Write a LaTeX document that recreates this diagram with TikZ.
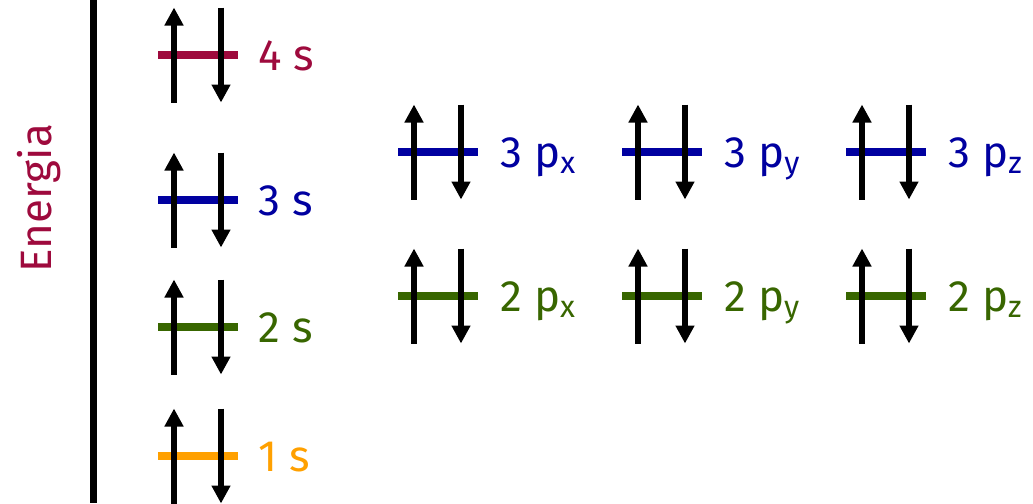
\documentclass[tikz,border=0pt]{standalone}
\usepackage{fontspec}
\setmainfont{Fira Sans}
\usetikzlibrary{positioning,arrows.meta,calc}
\definecolor{lvlfour}{RGB}{158,10,61}
\definecolor{lvlthree}{RGB}{0,0,160}
\definecolor{lvltwo}{RGB}{56,102,0}
\definecolor{lvlone}{RGB}{255,160,0}

\begin{document}
\begin{tikzpicture}[
  font=\fontsize{25}{29}\selectfont,
  lvl/.style={fill=#1, inner sep=0pt, minimum width=1.6cm, minimum height=0.15cm},
  lbl/.style={text=#1, inner sep=0pt, text height=0.6cm, text depth=0pt},
  spin/.style={-{Triangle[length=0.36cm, width=0.36cm]}, line width=0.11cm},
]
\useasboundingbox (0,0) rectangle (20.66,-10.06);

% ---------- energy axis ----------
\coordinate (axtop) at (1.86,0);
\coordinate (axbot) at (1.86,-10.06);
\draw[line width=0.14cm] (axtop) -- (axbot);
\node[rotate=90, text=lvlfour] (energia) at (0.78,-3.96) {Energia};

% ---------- s levels ----------
\node[lvl=lvlfour]  (l4s) at (3.96,-1.10) {};
\node[lvl=lvlthree] (l3s) at (3.96,-4.00) {};
\node[lvl=lvltwo]   (l2s) at (3.96,-6.54) {};
\node[lvl=lvlone]   (l1s) at (3.96,-9.12) {};

\node[lbl=lvlfour,  right=0.4cm of l4s] (t4s) {4 s};
\node[lbl=lvlthree, right=0.4cm of l3s] (t3s) {3 s};
\node[lbl=lvltwo,   right=0.4cm of l2s] (t2s) {2 s};
\node[lbl=lvlone,   right=0.4cm of l1s] (t1s) {1 s};

% ---------- p levels ----------
\node[lvl=lvlthree] (l3px) at (8.76,-3.04) {};
\node[lvl=lvlthree] (l3py) at (13.24,-3.04) {};
\node[lvl=lvlthree] (l3pz) at (17.72,-3.04) {};
\node[lvl=lvltwo]   (l2px) at (8.76,-5.92) {};
\node[lvl=lvltwo]   (l2py) at (13.24,-5.92) {};
\node[lvl=lvltwo]   (l2pz) at (17.72,-5.92) {};

\node[lbl=lvlthree, right=0.44cm of l3px] (t3px) {3 p\textsubscript{x}};
\node[lbl=lvlthree, right=0.44cm of l3py] (t3py) {3 p\textsubscript{y}};
\node[lbl=lvlthree, right=0.44cm of l3pz] (t3pz) {3 p\textsubscript{z}};
\node[lbl=lvltwo,   right=0.44cm of l2px] (t2px) {2 p\textsubscript{x}};
\node[lbl=lvltwo,   right=0.44cm of l2py] (t2py) {2 p\textsubscript{y}};
\node[lbl=lvltwo,   right=0.44cm of l2pz] (t2pz) {2 p\textsubscript{z}};

% ---------- electron pairs ----------
\foreach \o in {l4s,l3s,l2s,l1s,l3px,l3py,l3pz,l2px,l2py,l2pz}{
  \draw[spin] ($(\o.center)+(-0.48,-0.95)$) -- ++(0,1.9);
  \draw[spin] ($(\o.center)+(0.46,0.95)$) -- ++(0,-1.9);
}

\end{tikzpicture}
\end{document}
